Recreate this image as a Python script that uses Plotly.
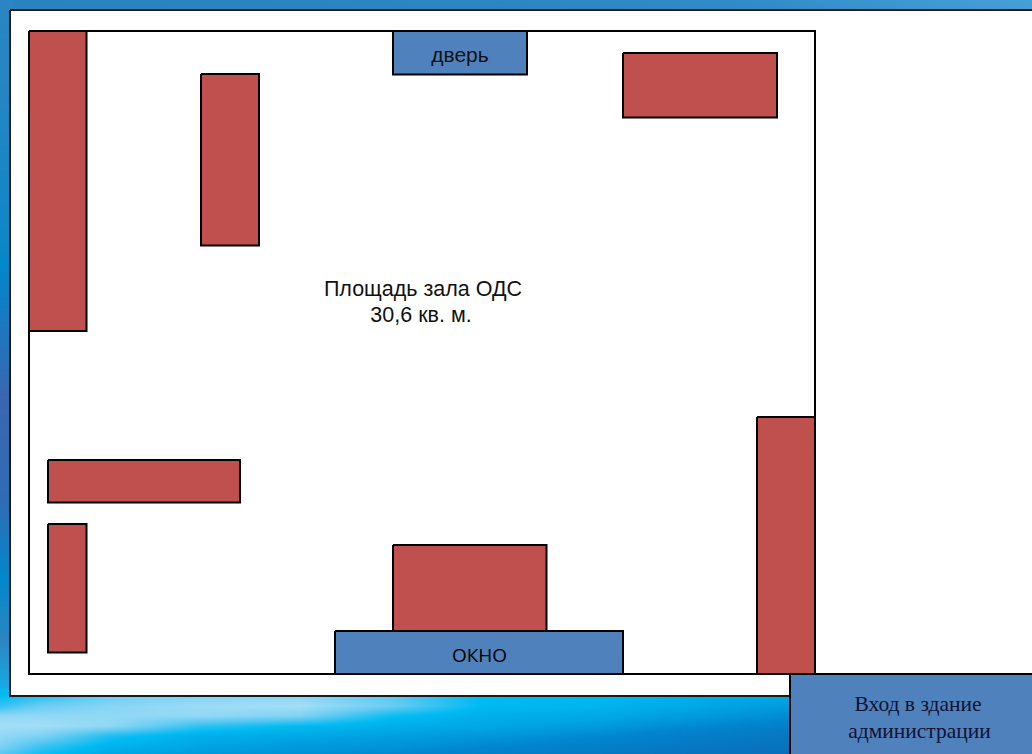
import plotly.graph_objects as go

# Room furniture (pixel-plan coordinates of the drawing)
furn_x0 = [29, 201, 623, 48, 48, 393, 757]
furn_x1 = [86.5, 259, 777, 240, 86.5, 546.5, 815]
furn_y0 = [31, 74, 53, 460, 524, 545, 417]
furn_y1 = [331, 245.5, 117.5, 502.5, 652.5, 631, 674]

open_x0 = [393, 335, 790]
open_x1 = [527, 623, 1040]
open_y0 = [31, 631, 674]
open_y1 = [74.5, 674, 760]

panel = [10, 1040, 10, 696]
room = [29, 815, 31, 674]

# background samples
top_x = [0, 250, 500, 750, 1032]
top_y = [0, 12]
top_z = [[0.15, 0.2, 0.3, 0.55, 1.0], [0.1, 0.15, 0.2, 0.4, 0.9]]
top_scale = [[0, "#2581be"], [0.5, "#2f8cc8"], [1, "#48a0d8"]]

left_y = [0, 100, 250, 400, 500, 580, 640, 700]
left_x = [0, 10]
left_z = [[0.75, 0.75], [0.72, 0.72], [0.6, 0.6], [0.0, 0.0], [0.1, 0.1], [0.55, 0.55], [0.75, 0.75], [1.0, 1.0]]
left_scale = [[0, "#3a66b0"], [0.55, "#0088cc"], [0.75, "#2b85c2"], [1, "#10b4ee"]]

bot_x = [0, 40, 110, 200, 300, 390, 480, 600, 700, 790]
bot_y = [694, 705, 715, 725, 735, 745, 754]
bot_z = [
    [0.62, 0.68, 0.85, 0.9, 0.92, 0.8, 0.62, 0.62, 0.55, 0.5],
    [0.72, 0.85, 0.92, 0.98, 1.0, 0.85, 0.62, 0.58, 0.5, 0.42],
    [0.95, 0.95, 0.95, 0.95, 0.9, 0.65, 0.55, 0.5, 0.42, 0.32],
    [1.0, 1.0, 0.95, 0.72, 0.62, 0.55, 0.5, 0.42, 0.3, 0.2],
    [0.95, 0.9, 0.68, 0.55, 0.5, 0.45, 0.4, 0.3, 0.18, 0.1],
    [0.9, 0.75, 0.58, 0.48, 0.42, 0.38, 0.3, 0.2, 0.1, 0.05],
    [0.8, 0.65, 0.5, 0.42, 0.36, 0.3, 0.22, 0.12, 0.05, 0.0],
]
bot_scale = [[0, "#0a6fbc"], [0.3, "#0088d0"], [0.5, "#00a8e6"], [0.62, "#00baf2"], [0.8, "#58c8f2"], [1, "#a4def6"]]

fig = go.Figure()
for xs, ys, zs, sc in [(top_x, top_y, top_z, top_scale), (left_x, left_y, left_z, left_scale), (bot_x, bot_y, bot_z, bot_scale)]:
    fig.add_trace(go.Heatmap(x=xs, y=ys, z=zs, colorscale=sc, zmin=0, zmax=1, zsmooth="best",
                             showscale=False, hoverinfo="skip"))


def box(x0, x1, y0, y1, fill, line="#000000", width=2):
    fig.add_trace(go.Scatter(x=[x0, x1, x1, x0, x0], y=[y0, y0, y1, y1, y0], mode="lines", fill="toself",
                             fillcolor=fill, line=dict(color=line, width=width), hoverinfo="skip",
                             showlegend=False, cliponaxis=True))


box(panel[0], panel[1], panel[2], panel[3], "#ffffff", "#1a1a1a")
box(room[0], room[1], room[2], room[3], "#ffffff", "#000000")
for a, b, c, d in zip(furn_x0, furn_x1, furn_y0, furn_y1):
    box(a, b, c, d, "#C0504D")
for a, b, c, d in zip(open_x0, open_x1, open_y0, open_y1):
    box(a, b, c, d, "#4F81BD")

labels = [
    ("дверь", 460, 56.5, "Liberation Sans", 21, "#111111"),
    ("ОКНО", 479.5, 657, "Open Sans, Noto Sans", 19, "#000000"),
    ("Площадь зала ОДС", 423, 291, "Liberation Sans", 21.5, "#111111"),
    ("30,6 кв. м.", 421, 317, "Liberation Sans", 21.5, "#111111"),
    ("Вход в здание", 918, 706, "Liberation Serif", 21.5, "#111133"),
    ("администрации", 919.5, 733, "Liberation Serif", 21.5, "#111133"),
]
for t, x, y, fam, size, col in labels:
    fig.add_trace(go.Scatter(x=[x], y=[y], mode="text", text=[t], textposition="middle center",
                             textfont=dict(family=fam, size=size, color=col), hoverinfo="skip", showlegend=False))

fig.update_layout(
    width=1032, height=754, margin=dict(l=0, r=0, t=0, b=0, pad=0), autosize=False, showlegend=False,
    paper_bgcolor="#ffffff", plot_bgcolor="#ffffff",
    xaxis=dict(range=[0, 1032], visible=False, fixedrange=True),
    yaxis=dict(range=[754, 0], visible=False, fixedrange=True),
)
fig.write_html("out.html", config={"displayModeBar": False},
               post_script="document.body.style.margin='0';document.body.style.overflow='hidden';")
